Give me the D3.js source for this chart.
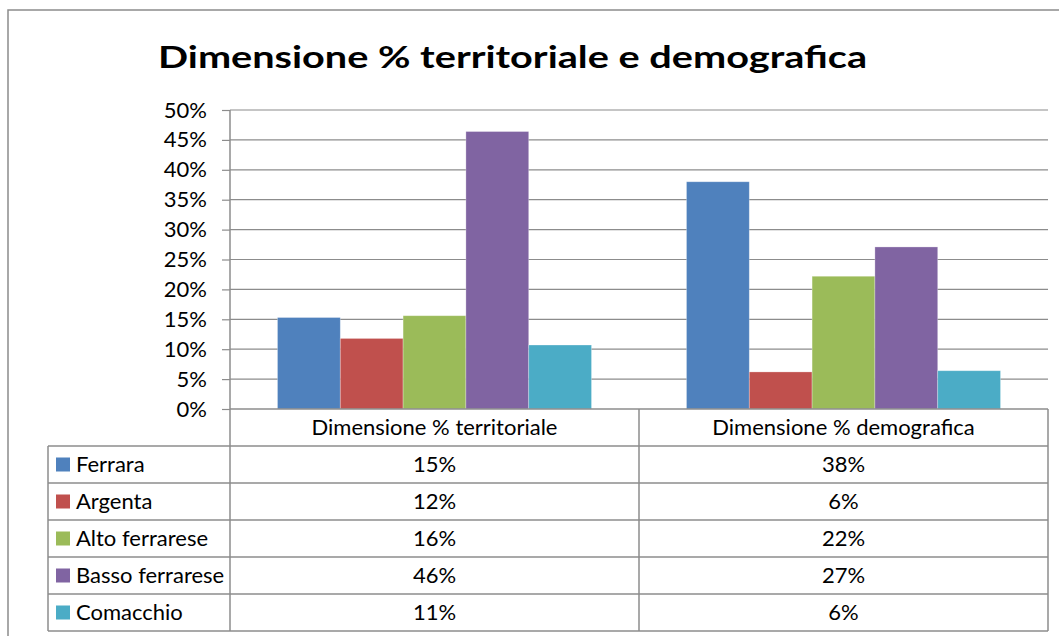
<!DOCTYPE html>
<html><head><meta charset="utf-8">
<script src="https://cdn.jsdelivr.net/npm/d3@7"></script>
<style>html,body{margin:0;padding:0;background:#fff;}svg{display:block;}</style>
</head><body>
<svg id="c" width="1059" height="636"></svg>
<script>
const title = "Dimensione % territoriale e demografica";
const categories = ["Dimensione % territoriale", "Dimensione % demografica"];
const series = ["Ferrara", "Argenta", "Alto ferrarese", "Basso ferrarese", "Comacchio"];
const territoriale = [0.153, 0.118, 0.156, 0.464, 0.107];
const demografica = [0.380, 0.062, 0.222, 0.271, 0.064];
const yTicks = [0, 0.05, 0.10, 0.15, 0.20, 0.25, 0.30, 0.35, 0.40, 0.45, 0.50];
const colors = ["#4F81BD", "#C0504D", "#9BBB59", "#8064A2", "#4BACC6"];

const values = [territoriale, demografica];
const svg = d3.select("#c");
const FONT = "Lato, 'Open Sans', sans-serif";
const lineCol = "#8c8c8c";

// outer frame
svg.append("rect").attr("x", 8).attr("y", 10).attr("width", 1100).attr("height", 700)
  .attr("fill", "none").attr("stroke", lineCol).attr("stroke-width", 1.5);

const pLeft = 230, pRight = 1048, pTop = 110, pBase = 409;
const y = d3.scaleLinear().domain([0, 0.5]).range([pBase, pTop]);
const x0 = d3.scaleBand().domain(categories).range([pLeft, pRight]).padding(0);
const x1 = d3.scaleBand().domain(series).range([0, x0.bandwidth()]).paddingInner(0).paddingOuter(0.756);

// title
svg.append("text").attr("x", 158).attr("y", 67.5)
  .attr("font-family", FONT).attr("font-weight", "bold").attr("font-size", 31)
  .attr("textLength", 709).attr("lengthAdjust", "spacingAndGlyphs")
  .attr("fill", "#000").text(title);

// measure body font size
const probe = svg.append("text").attr("font-family", FONT).attr("font-size", 100).text(categories[0]);
const fs = 100 * 246 / probe.node().getComputedTextLength();
probe.remove();

// gridlines
svg.append("g").selectAll("line").data(yTicks.slice(1)).join("line")
  .attr("x1", pLeft).attr("x2", pRight).attr("y1", d => y(d)).attr("y2", d => y(d))
  .attr("stroke", lineCol).attr("stroke-width", 1.2);

// bars
const g = svg.append("g");
categories.forEach((c, ci) => {
  g.selectAll(null).data(series).join("rect")
    .attr("x", s => x0(c) + x1(s))
    .attr("width", x1.bandwidth())
    .attr("y", (s, i) => y(values[ci][i]))
    .attr("height", (s, i) => pBase - y(values[ci][i]))
    .attr("fill", (s, i) => colors[i])
    .attr("stroke", "#ffffff").attr("stroke-opacity", 0.35).attr("stroke-width", 0.8);
});

// y axis
const yAxis = d3.axisLeft(y).tickValues(yTicks).tickFormat(d3.format(".0%")).tickSize(8).tickPadding(15);
const ya = svg.append("g").attr("transform", `translate(${pLeft},0)`).call(yAxis);
ya.select(".domain").remove();
ya.selectAll(".tick line").attr("stroke", lineCol).attr("stroke-width", 1.2);
ya.selectAll(".tick text").attr("font-family", FONT).attr("font-size", fs).attr("fill", "#000");

// axis line (0%) and vertical axis line through table
const rowTop = 446, rowBottom = 631;
const rows = d3.scaleBand().domain(series).range([rowTop, rowBottom]);
svg.append("line").attr("x1", pLeft).attr("x2", pRight).attr("y1", pBase).attr("y2", pBase)
  .attr("stroke", lineCol).attr("stroke-width", 1.5);
svg.append("line").attr("x1", pLeft).attr("x2", pLeft).attr("y1", pTop).attr("y2", rowBottom)
  .attr("stroke", lineCol).attr("stroke-width", 1.5);

// table
const tbl = svg.append("g");
const tableLeft = 48;
[x0(categories[1]), pRight].forEach(xv => {
  tbl.append("line").attr("x1", xv).attr("x2", xv).attr("y1", pBase).attr("y2", rowBottom)
    .attr("stroke", lineCol).attr("stroke-width", 1.5);
});
tbl.append("line").attr("x1", tableLeft).attr("x2", tableLeft).attr("y1", rowTop).attr("y2", rowBottom)
  .attr("stroke", lineCol).attr("stroke-width", 1.5);
const hLines = series.map(s => rows(s)).concat([rowBottom]);
tbl.selectAll(null).data(hLines).join("line")
  .attr("x1", tableLeft).attr("x2", pRight).attr("y1", d => d).attr("y2", d => d)
  .attr("stroke", lineCol).attr("stroke-width", 1.5);

// header text
tbl.selectAll(null).data(categories).join("text")
  .attr("x", c => x0(c) + x0.bandwidth() / 2).attr("y", (pBase + rowTop) / 2)
  .attr("dy", "0.35em").attr("text-anchor", "middle")
  .attr("font-family", FONT).attr("font-size", fs).attr("fill", "#000").text(c => c);

// legend keys and labels
tbl.selectAll(null).data(series).join("rect")
  .attr("x", 56).attr("width", 14)
  .attr("y", s => rows(s) + rows.bandwidth() / 2 - 7).attr("height", 14)
  .attr("fill", (s, i) => colors[i]);
tbl.selectAll(null).data(series).join("text")
  .attr("x", 76).attr("y", s => rows(s) + rows.bandwidth() / 2).attr("dy", "0.35em")
  .attr("font-family", FONT).attr("font-size", fs).attr("fill", "#000").text(s => s);

// values
const fmt = d3.format(".0%");
categories.forEach((c, ci) => {
  tbl.selectAll(null).data(series).join("text")
    .attr("x", x0(c) + x0.bandwidth() / 2)
    .attr("y", s => rows(s) + rows.bandwidth() / 2).attr("dy", "0.35em")
    .attr("text-anchor", "middle")
    .attr("font-family", FONT).attr("font-size", fs).attr("fill", "#000")
    .text((s, i) => fmt(values[ci][i]));
});
</script>
</body></html>
